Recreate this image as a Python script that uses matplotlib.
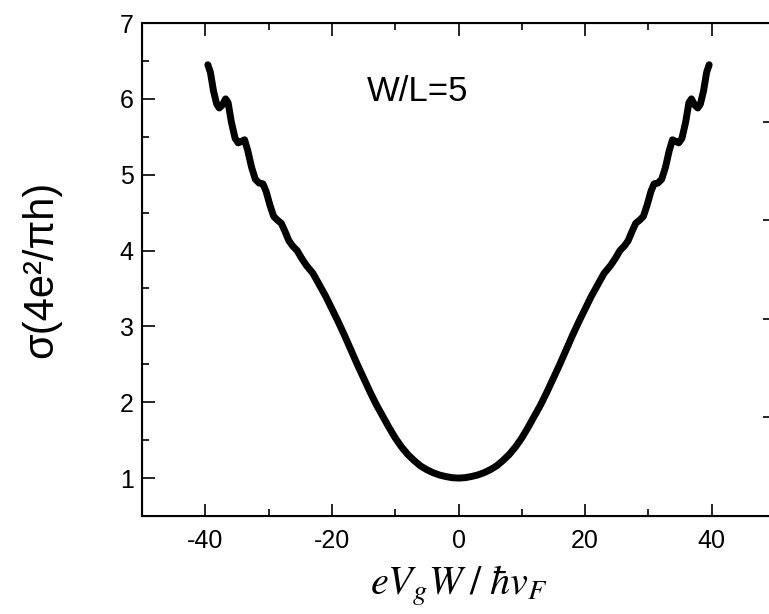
import numpy as np
import matplotlib
matplotlib.use('Agg')
import matplotlib.pyplot as plt
from matplotlib.ticker import MultipleLocator

plt.rcParams['font.family'] = ['Liberation Sans', 'DejaVu Sans']
plt.rcParams['mathtext.fontset'] = 'stix'
plt.rcParams['axes.unicode_minus'] = False  # 用普通减号

# 曲线数据
x_left = [-39.6, -39.2, -38.7, -38.2, -37.8, -37.3, -36.8, -36.4, -35.9, -35.3,
          -34.8, -34.3, -33.8, -33.3, -32.7, -32.1, -31.5, -30.9, -30.4, -29.8,
          -29.2, -28.6, -28.0, -27.4, -26.8, -26.2, -25.5, -24.8, -24.0, -23.0,
          -22.0, -21.0, -20.0, -19.0, -18.0, -17.0, -16.0, -15.0, -14.0, -13.0,
          -12.0, -11.0, -10.0, -9.0, -8.0, -7.0, -6.0, -5.0, -4.0, -3.0,
          -2.0, -1.0]
y_left = [6.45, 6.35, 6.10, 5.93, 5.88, 5.92, 6.00, 5.95, 5.70, 5.48,
          5.42, 5.44, 5.46, 5.32, 5.10, 4.94, 4.89, 4.88, 4.78, 4.60,
          4.45, 4.40, 4.36, 4.25, 4.13, 4.06, 4.00, 3.90, 3.80, 3.70,
          3.55, 3.40, 3.23, 3.06, 2.88, 2.69, 2.50, 2.32, 2.14, 1.97,
          1.82, 1.67, 1.53, 1.41, 1.31, 1.23, 1.16, 1.11, 1.07, 1.04,
          1.02, 1.005]
x_mid = [0.0]
y_mid = [1.00]
x_right = [1.0, 2.0, 3.0, 4.0, 5.0, 6.0, 7.0, 8.0, 9.0, 10.0,
           11.0, 12.0, 13.0, 14.0, 15.0, 16.0, 17.0, 18.0, 19.0, 20.0,
           21.0, 22.0, 23.0, 24.0, 24.8, 25.5, 26.2, 26.8, 27.4, 28.0,
           28.6, 29.2, 29.8, 30.4, 30.9, 31.5, 32.1, 32.7, 33.3, 33.8,
           34.3, 34.8, 35.3, 35.9, 36.4, 36.8, 37.3, 37.8, 38.2, 38.7,
           39.2, 39.6]
y_right = [1.005, 1.02, 1.04, 1.07, 1.11, 1.16, 1.23, 1.31, 1.41, 1.53,
           1.67, 1.82, 1.97, 2.14, 2.32, 2.50, 2.69, 2.88, 3.06, 3.23,
           3.40, 3.55, 3.70, 3.80, 3.90, 4.00, 4.06, 4.13, 4.25, 4.36,
           4.40, 4.45, 4.60, 4.78, 4.88, 4.89, 4.94, 5.10, 5.32, 5.46,
           5.44, 5.42, 5.48, 5.70, 5.95, 6.00, 5.92, 5.88, 5.93, 6.10,
           6.35, 6.45]

xs = x_left + x_mid + x_right
ys = y_left + y_mid + y_right

fig = plt.figure(figsize=(7.69, 6.14), dpi=100)
ax = fig.add_axes([0.1847, 0.1596, 0.8231, 0.8029])

ax.plot(xs, ys, color='black', lw=5, solid_capstyle='round', solid_joinstyle='round')

ax.set_xlim(-50, 50)
ax.set_ylim(0.5, 7)
ax.xaxis.set_major_locator(MultipleLocator(20))
ax.xaxis.set_minor_locator(MultipleLocator(10))
ax.yaxis.set_major_locator(MultipleLocator(1))
ax.yaxis.set_minor_locator(MultipleLocator(0.5))
ax.tick_params(which='both', direction='in', top=True, right=False, width=1.2, labelsize=18)
ax.tick_params(which='major', length=9)
ax.tick_params(which='minor', length=5)
ax.tick_params(axis='x', pad=9)
ax.tick_params(axis='y', pad=6)
for s in ax.spines.values():
    s.set_linewidth(1.5)

# 右侧坐标轴刻度
ax2 = ax.twinx()
ax2.set_ylim(0, 5)
ax2.yaxis.set_major_locator(MultipleLocator(1))
ax2.tick_params(direction='in', length=9, width=1.2, labelright=False)

ax.text(-6.5, 6.1, 'W/L=5', fontsize=25, ha='center', va='center')
ax.set_xlabel(r'$eV_gW\;/\;\hbar v_F$', fontsize=29, labelpad=8)
ax.set_ylabel('σ(4e²/πh)', fontsize=30, labelpad=42)

plt.savefig('out.png', dpi=100)
